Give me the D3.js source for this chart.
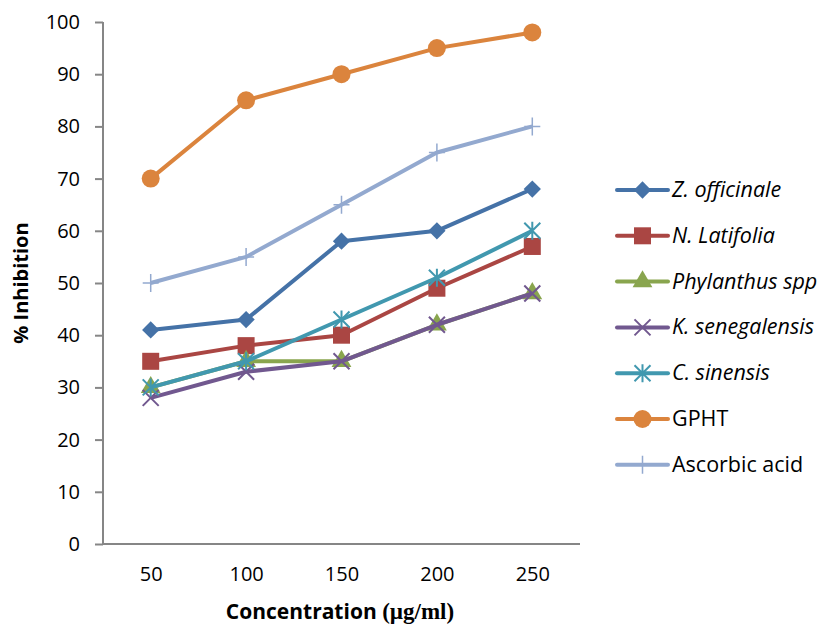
<!DOCTYPE html>
<html lang="en">
<head>
  <meta charset="UTF-8">
  <script src="https://cdn.jsdelivr.net/npm/d3@7"></script>
  <title>% Inhibition</title>
  <style>
    body { margin: 0; background: #fff; }
    text { font-family: "Open Sans", "Noto Sans", sans-serif; fill: #000; }
  </style>
</head>
<body>
<script>
  const concentrations = ["50", "100", "150", "200", "250"];
  const seriesNames = ["Z. officinale", "N. Latifolia", "Phylanthus spp", "K. senegalensis", "C. sinensis", "GPHT", "Ascorbic acid"];
  const zOfficinale = [41, 43, 58, 60, 68];
  const nLatifolia = [35, 38, 40, 49, 57];
  const phylanthus = [30, 35, 35, 42, 48];
  const kSenegalensis = [28, 33, 35, 42, 48];
  const cSinensis = [30, 35, 43, 51, 60];
  const gpht = [70, 85, 90, 95, 98];
  const ascorbic = [50, 55, 65, 75, 80];
  const yTicks = [0, 10, 20, 30, 40, 50, 60, 70, 80, 90, 100];

  const allValues = [zOfficinale, nLatifolia, phylanthus, kSenegalensis, cSinensis, gpht, ascorbic];
  const colors = ["#4572A7", "#AA4643", "#89A54E", "#71588F", "#4198AF", "#DB843D", "#93A9CF"];
  const markers = ["diamond", "square", "triangle", "x", "star", "circle", "plus"];

  const width = 829, height = 628;
  const plotLeft = 103, plotRight = 580, plotTop = 22, plotBottom = 544;

  const svg = d3.select("body").append("svg")
    .attr("width", width).attr("height", height);

  const x = d3.scalePoint().domain(concentrations).range([plotLeft, plotRight]).padding(0.5);
  const y = d3.scaleLinear().domain([0, 100]).range([plotBottom, plotTop]);

  // axes
  const yAxis = svg.append("g").attr("transform", `translate(${plotLeft},0)`)
    .call(d3.axisLeft(y).tickValues(yTicks).tickSize(8).tickPadding(15));
  const xAxis = svg.append("g").attr("transform", `translate(0,${plotBottom})`)
    .call(d3.axisBottom(x).tickSize(0).tickPadding(23));
  [yAxis, xAxis].forEach(a => {
    a.select(".domain").attr("stroke", "#868686").attr("stroke-width", 2);
    a.selectAll(".tick line").attr("stroke", "#868686").attr("stroke-width", 2);
    a.selectAll("text").style("font-size", "20px").attr("fill", "#000");
  });
  xAxis.select(".domain").attr("d", `M${plotLeft},0H${plotRight}`);
  yAxis.select(".domain").attr("d", `M0,${plotTop}V${plotBottom}`);

  // axis titles
  svg.append("text")
    .attr("transform", `translate(28,${(plotTop + plotBottom) / 2}) rotate(-90)`)
    .attr("text-anchor", "middle")
    .style("font-size", "20px").style("font-weight", "bold")
    .text("% Inhibition");
  const xt = svg.append("text")
    .attr("x", 340).attr("y", 619)
    .attr("text-anchor", "middle")
    .style("font-size", "21px").style("font-weight", "bold");
  xt.append("tspan").text("Concentration ");
  xt.append("tspan").style("font-family", "'Liberation Serif', serif").style("font-size", "23px").text("(µg/ml)");

  function marker(g, type, color, cx, cy) {
    if (type === "diamond") {
      g.append("path").attr("d", d3.symbol().type(d3.symbolDiamond2).size(190)())
        .attr("transform", `translate(${cx},${cy})`).attr("fill", color);
    } else if (type === "square") {
      g.append("rect").attr("x", cx - 8.5).attr("y", cy - 8.5).attr("width", 17).attr("height", 17).attr("fill", color);
    } else if (type === "triangle") {
      g.append("path").attr("d", d3.symbol().type(d3.symbolTriangle).size(170)())
        .attr("transform", `translate(${cx},${cy})`).attr("fill", color);
    } else if (type === "x") {
      g.append("path").attr("d", "M-8,-8L8,8M-8,8L8,-8")
        .attr("transform", `translate(${cx},${cy})`).attr("stroke", color).attr("stroke-width", 2).attr("fill", "none");
    } else if (type === "star") {
      g.append("path").attr("d", "M-8,-8L8,8M-8,8L8,-8M0,-9V9")
        .attr("transform", `translate(${cx},${cy})`).attr("stroke", color).attr("stroke-width", 2).attr("fill", "none");
    } else if (type === "circle") {
      g.append("circle").attr("cx", cx).attr("cy", cy).attr("r", 9).attr("fill", color);
    } else if (type === "plus") {
      g.append("path").attr("d", "M-8,0H8M0,-9V9")
        .attr("transform", `translate(${cx},${cy})`).attr("stroke", color).attr("stroke-width", 1.5).attr("fill", "none");
    }
  }

  const line = d3.line().x((d, i) => x(concentrations[i])).y(d => y(d));

  allValues.forEach((vals, k) => {
    const g = svg.append("g");
    g.append("path").attr("d", line(vals))
      .attr("fill", "none").attr("stroke", colors[k]).attr("stroke-width", 4)
      .attr("stroke-linejoin", "round");
    vals.forEach((v, i) => marker(g, markers[k], colors[k], x(concentrations[i]), y(v)));
  });

  // legend
  const legend = svg.append("g");
  seriesNames.forEach((name, k) => {
    const ly = 190 + k * 45.8;
    const g = legend.append("g");
    g.append("line").attr("x1", 617).attr("x2", 668).attr("y1", ly).attr("y2", ly)
      .attr("stroke", colors[k]).attr("stroke-width", 4).attr("stroke-linecap", "round");
    marker(g, markers[k], colors[k], 642.5, ly);
    g.append("text").attr("x", 672).attr("y", ly + 7)
      .style("font-size", "21.5px")
      .style("font-style", name === "GPHT" || name === "Ascorbic acid" ? "normal" : "italic")
      .text(name);
  });
</script>
</body>
</html>
